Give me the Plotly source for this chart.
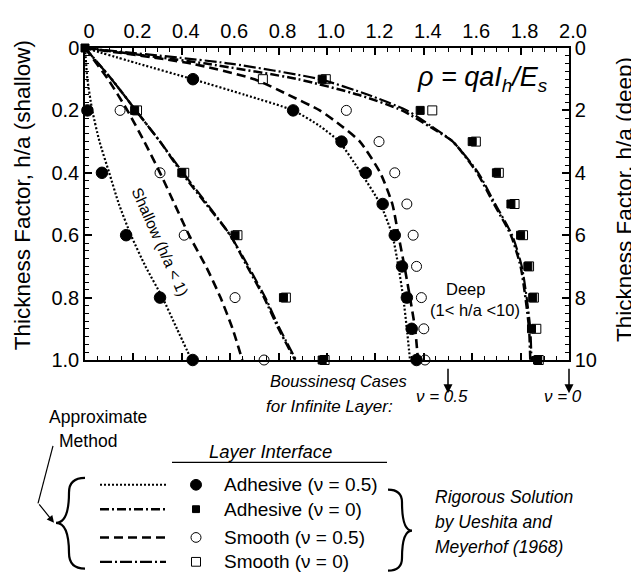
import plotly.graph_objects as go

# ---------------- data ----------------
# shallow layers (left axis, h/a 0..1)
shallow_h_line = [0, 0.1, 0.2, 0.3, 0.4, 0.5, 0.6, 0.7, 0.8, 0.9, 1.0]
shallow_adh05_line = [0, 0.01, 0.03, 0.06, 0.10, 0.14, 0.19, 0.25, 0.32, 0.38, 0.44]
shallow_adh0_line = [0, 0.11, 0.21, 0.31, 0.40, 0.50, 0.60, 0.67, 0.74, 0.80, 0.868]
shallow_smooth05_line = [0, 0.095, 0.175, 0.245, 0.31, 0.37, 0.43, 0.50, 0.56, 0.61, 0.65]
shallow_smooth0_line = [0, 0.11, 0.21, 0.31, 0.405, 0.505, 0.60, 0.675, 0.745, 0.805, 0.872]

shallow_h_pts = [0.2, 0.4, 0.6, 0.8, 1.0]
shallow_adh05_pts = [0.01, 0.07, 0.17, 0.31, 0.445]
shallow_adh0_h_pts = [0, 0.2, 0.4, 0.6, 0.8, 1.0]
shallow_adh0_pts = [0, 0.205, 0.40, 0.62, 0.82, 0.98]
shallow_smooth05_pts = [0.145, 0.31, 0.41, 0.62, 0.74]
shallow_smooth0_pts = [0.215, 0.41, 0.63, 0.83, 0.99]

# deep layers (right axis, h/a 0..10)
deep_h_line = [0, 0.5, 1, 1.5, 2, 2.5, 3, 4, 5, 6, 7, 8, 9, 10]
deep_adh05_line = [0, 0.22, 0.445, 0.66, 0.86, 0.97, 1.05, 1.14, 1.22, 1.27, 1.295, 1.315, 1.33, 1.343]
deep_adh0_line = [0, 0.50, 0.88, 1.13, 1.31, 1.42, 1.52, 1.62, 1.69, 1.76, 1.80, 1.82, 1.835, 1.84]
deep_smooth05_line = [0, 0.44, 0.70, 0.84, 0.97, 1.06, 1.136, 1.22, 1.27, 1.295, 1.32, 1.343, 1.364, 1.376]
deep_smooth0_line = [0, 0.60, 0.97, 1.17, 1.33, 1.43, 1.52, 1.625, 1.695, 1.765, 1.805, 1.825, 1.84, 1.845]

deep_h_pts = [1, 2, 3, 4, 5, 6, 7, 8, 9, 10]
deep_adh05_pts = [0.446, 0.86, 1.06, 1.16, 1.23, 1.28, 1.31, 1.33, 1.35, 1.37]
deep_adh0_pts = [0.98, 1.385, 1.60, 1.70, 1.76, 1.80, 1.83, 1.85, 1.845, 1.87]
deep_smooth05_h_pts = [2, 3, 4, 5, 6, 7, 8, 9, 10]
deep_smooth05_pts = [1.08, 1.215, 1.28, 1.33, 1.356, 1.37, 1.39, 1.40, 1.405]
deep_smooth0_h_pts = [1, 1, 2, 3, 4, 5, 6, 7, 8, 9, 10]
deep_smooth0_pts = [0.735, 0.995, 1.435, 1.615, 1.71, 1.775, 1.81, 1.835, 1.855, 1.865, 1.875]

boussinesq_nu_labels = ["ν = 0.5", "ν = 0"]
boussinesq_values = [1.5, 2.0]

x_ticks = [0, 0.2, 0.4, 0.6, 0.8, 1.0, 1.2, 1.4, 1.6, 1.8, 2.0]
x_ticktext = ["0", "0.2", "0.4", "0.6", "0.8", "1.0", "1.2", "1.4", "1.6", "1.8", "2.0"]
yl_ticks = [0, 0.2, 0.4, 0.6, 0.8, 1.0]
yl_ticktext = ["0", "0.2", "0.4", "0.6", "0.8", "1.0"]
yr_ticks = [0, 2, 4, 6, 8, 10]
yr_ticktext = ["0", "2", "4", "6", "8", "10"]

legend_labels = ["Adhesive (ν = 0.5)", "Adhesive (ν = 0)", "Smooth (ν = 0.5)", "Smooth (ν = 0)"]

# ---------------- styles ----------------
FONT = "Liberation Sans, Arial, Helvetica, sans-serif"
DOT = "2px,2px"
DASH = "9px,5px"
DASHDOT = "9px,3px,2px,3px"
LONGDASHDOT = "12px,3px,2px,3px"

OFF = 8  # page body margin of the html page
W, H = 639 - OFF, 577 - OFF
L, T = 85 - OFF, 40 - OFF
R = 70
B = 217
PW, PH = W - L - R, H - T - B


def PX(x):
    """page pixel x -> paper fraction"""
    return (x - OFF - L) / PW


def PY(y):
    """page pixel y -> paper fraction"""
    return (T + PH - (y - OFF)) / PH


fig = go.Figure()


def add_line(xs, ys, dash, width, yaxis):
    fig.add_trace(go.Scatter(x=xs, y=ys, mode="lines", yaxis=yaxis,
                             line=dict(color="black", width=width, dash=dash,
                                       shape="spline", smoothing=0.6),
                             showlegend=False, hoverinfo="skip", cliponaxis=False))


def add_pts(xs, ys, symbol, size, yaxis, lw=1):
    fig.add_trace(go.Scatter(x=xs, y=ys, mode="markers", yaxis=yaxis,
                             marker=dict(symbol=symbol, size=size, color="black",
                                         line=dict(color="black", width=lw)),
                             showlegend=False, cliponaxis=False))


# shallow
add_line(shallow_adh05_line, shallow_h_line, DOT, 2.2, "y")
add_line(shallow_adh0_line, shallow_h_line, DASHDOT, 2.5, "y")
add_line(shallow_smooth05_line, shallow_h_line, DASH, 2.6, "y")
add_line(shallow_smooth0_line, shallow_h_line, LONGDASHDOT, 2.2, "y")
# deep
add_line(deep_adh05_line, deep_h_line, DOT, 2.2, "y2")
add_line(deep_adh0_line, deep_h_line, DASHDOT, 2.5, "y2")
add_line(deep_smooth05_line, deep_h_line, DASH, 2.6, "y2")
add_line(deep_smooth0_line, deep_h_line, LONGDASHDOT, 2.2, "y2")

# markers
add_pts(shallow_smooth0_pts, shallow_h_pts, "square-open", 9, "y")
add_pts(deep_smooth0_pts, deep_smooth0_h_pts, "square-open", 9, "y2")
add_pts(shallow_adh0_pts, shallow_adh0_h_pts, "square", 8, "y")
add_pts(deep_adh0_pts, deep_h_pts, "square", 8, "y2")
add_pts(shallow_smooth05_pts, shallow_h_pts, "circle-open", 10, "y")
add_pts(deep_smooth05_pts, deep_smooth05_h_pts, "circle-open", 10, "y2")
add_pts(shallow_adh05_pts, shallow_h_pts, "circle", 11.5, "y")
add_pts(deep_adh05_pts, deep_h_pts, "circle", 11.5, "y2")

axis_common = dict(showgrid=False, zeroline=False, showline=True, linecolor="black",
                   linewidth=1.5, ticks="inside", ticklen=7, tickwidth=1.5,
                   tickcolor="black", tickfont=dict(family=FONT, size=20, color="black"))

fig.update_layout(
    width=W, height=H, autosize=False,
    margin=dict(l=L, r=R, t=T, b=B, pad=0),
    paper_bgcolor="white", plot_bgcolor="white",
    font=dict(family=FONT, color="black"),
    xaxis=dict(range=[0, 2], side="top", tickmode="array", tickvals=x_ticks,
               ticktext=x_ticktext, mirror="ticks", ticklabelshift=4,
               minor=dict(tickmode="linear", tick0=0, dtick=0.05, ticks="inside",
                          ticklen=4, tickwidth=1, tickcolor="black"),
               **axis_common),
    yaxis=dict(range=[1, 0], tickmode="array", tickvals=yl_ticks, ticktext=yl_ticktext,
               minor=dict(tickmode="linear", tick0=0, dtick=0.025, ticks="inside",
                          ticklen=4, tickwidth=1, tickcolor="black"),
               **axis_common),
    yaxis2=dict(range=[10, 0], overlaying="y", side="right", tickmode="array",
                tickvals=yr_ticks, ticktext=yr_ticktext,
                minor=dict(tickmode="linear", tick0=0, dtick=0.25, ticks="inside",
                           ticklen=4, tickwidth=1, tickcolor="black"),
                **axis_common),
)

ann = []


def text(x, y, s, size=17, xanchor="center", angle=0, xref="paper", yref="paper"):
    ann.append(dict(x=x, y=y, xref=xref, yref=yref, text=s, showarrow=False,
                    xanchor=xanchor, yanchor="middle", textangle=angle,
                    font=dict(family=FONT, size=size, color="black")))


# axis titles
text(PX(22), PY(191), "Thickness Factor, h/a (shallow)", size=22.5, angle=-90)
text(PX(624), PY(196), "Thickness Factor, h/a (deep)", size=22.5, angle=-90)

# in-plot labels
text(PX(482), PY(72), "<i>ρ = qaI<sub>h</sub>/E<sub>s</sub></i>", size=27)
text(0.31, 0.62, "Shallow (h/a < 1)", size=15.5, angle=66, xref="x", yref="y")
text(PX(465), PY(287), "Deep", size=16.5)
text(PX(475), PY(309), "(1< h/a <10)", size=16.5)

# Boussinesq
text(PX(268), PY(382), "<i>Boussinesq Cases</i>", size=16.5, xanchor="left")
text(PX(264), PY(408), "<i>for Infinite Layer:</i>", size=17, xanchor="left")
for lab, val in zip(boussinesq_nu_labels, boussinesq_values):
    ann.append(dict(x=val, y=PY(394), xref="x", yref="paper", text="", showarrow=True,
                    ax=0, ay=-26, arrowhead=2, arrowsize=1.2, arrowwidth=1.5,
                    arrowcolor="black"))
    ann.append(dict(x=val - 0.025, y=PY(409), xref="x", yref="paper",
                    text="<i>" + lab + "</i>", showarrow=False, xanchor="center",
                    font=dict(family=FONT, size=17, color="black")))

# legend block
text(PX(98), PY(418), "Approximate", size=17.5)
text(PX(88), PY(443), "Method", size=17.5)
text(PX(270), PY(454), "<i>Layer Interface</i>", size=18.5)
legend_y = [488, 513, 542, 567]
for lab, yy in zip(legend_labels, legend_y):
    text(PX(222), PY(yy), lab, size=19, xanchor="left")
text(PX(433), PY(500), "<i>Rigorous Solution</i>", size=17.5, xanchor="left")
text(PX(433), PY(526), "<i>by Ueshita and</i>", size=17.5, xanchor="left")
text(PX(433), PY(552), "<i>Meyerhof (1968)</i>", size=17.5, xanchor="left")
# approximate-method arrow
ann.append(dict(x=PX(54), y=PY(527), xref="paper", yref="paper", text="", showarrow=True,
                ax=-16, ay=-20, arrowhead=2, arrowsize=1.2, arrowwidth=1.2,
                arrowcolor="black"))
fig.update_layout(annotations=ann)

shapes = []


def pline(x0, y0, x1, y1, dash="solid", width=1.5):
    shapes.append(dict(type="line", xref="paper", yref="paper", x0=PX(x0), y0=PY(y0),
                       x1=PX(x1), y1=PY(y1), line=dict(color="black", width=width, dash=dash)))


pline(172, 465, 387, 465, width=1.2)
pline(53, 448, 38, 507, width=1.2)
for dash, yy, wd in zip([DOT, DASHDOT, DASH, LONGDASHDOT], legend_y, [2, 2.5, 2.6, 2.2]):
    pline(100, yy, 166, yy, dash=dash, width=wd)


def pbox(kind, cx, cy, r, filled):
    shapes.append(dict(type=kind, xref="paper", yref="paper", x0=PX(cx - r), x1=PX(cx + r),
                       y0=PY(cy + r), y1=PY(cy - r),
                       line=dict(color="black", width=1),
                       fillcolor="black" if filled else "white"))


pbox("circle", 196, 488, 5.5, True)
pbox("rect", 196, 513, 3.5, True)
pbox("circle", 196, 542, 5, False)
pbox("rect", 196, 567, 4.5, False)


def path(points):
    s = "M {:.5f},{:.5f}".format(PX(points[0][0]), PY(points[0][1]))
    i = 1
    while i < len(points):
        (a, b), (c, d) = points[i], points[i + 1]
        s += " Q {:.5f},{:.5f} {:.5f},{:.5f}".format(PX(a), PY(b), PX(c), PY(d))
        i += 2
    return s


left_brace = [(85, 481), (69, 481), (69, 496), (69, 527), (56, 527),
              (69, 527), (69, 558), (69, 574), (85, 574)]
right_brace = [(388, 493), (402, 493), (402, 506), (402, 535), (412, 535),
               (402, 535), (402, 563), (402, 576), (388, 576)]
for br in (left_brace, right_brace):
    shapes.append(dict(type="path", xref="paper", yref="paper", path=path(br),
                       line=dict(color="black", width=2.2)))

fig.update_layout(shapes=shapes)
fig.write_html("out.html")
